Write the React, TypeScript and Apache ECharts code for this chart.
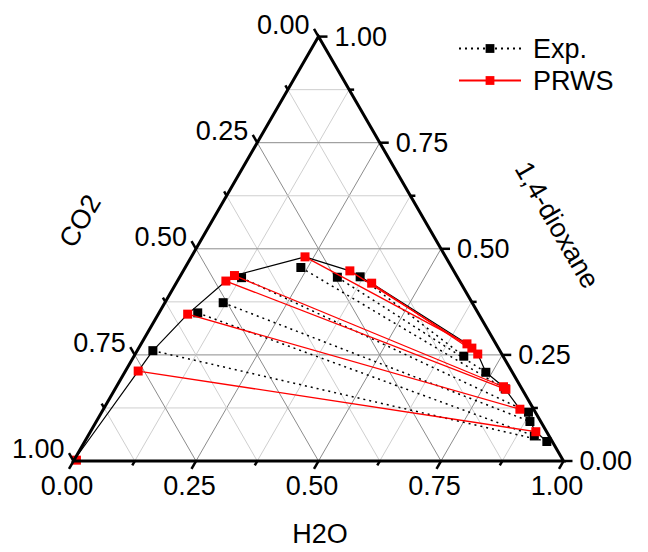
import React, { useEffect, useRef } from "react";
import * as echarts from "echarts";

const FONT = "'Liberation Sans', Arial, Helvetica, sans-serif";
const S = Math.sqrt(3) / 2;

// axis titles and ticks
const titleBottom = "H2O";
const titleLeft = "CO2";
const titleRight = "1,4-dioxane";
const tickValues = [0, 0.125, 0.25, 0.375, 0.5, 0.625, 0.75, 0.875, 1];
const gridValues = [0.125, 0.25, 0.375, 0.5, 0.625, 0.75, 0.875];

// Experimental tie lines (mole fractions; CO2 = 1 - H2O - dioxane)
const expH2O_I = [0.032, 0.079, 0.119, 0.127, 0.236, 0.322, 0.368];
const expDiox_I = [0.26, 0.349, 0.373, 0.432, 0.456, 0.433, 0.434];
const expH2O_II = [0.943, 0.911, 0.885, 0.871, 0.796, 0.737, 0.673];
const expDiox_II = [0.046, 0.059, 0.093, 0.115, 0.17, 0.209, 0.247];

// PRWS tie lines
const prwsH2O_I = [0.026, 0.06, 0.099, 0.11, 0.232, 0.34, 0.399];
const prwsDiox_I = [0.212, 0.346, 0.424, 0.437, 0.481, 0.448, 0.419];
const prwsH2O_II = [0.909, 0.85, 0.798, 0.79, 0.665, 0.68, 0.699];
const prwsDiox_II = [0.069, 0.122, 0.169, 0.175, 0.276, 0.266, 0.252];
const prwsPureH2O = [0.005];
const prwsPureDiox = [0.002];

// binodal curve
const binodalH2O = [0, 0.026, 0.032, 0.06, 0.099, 0.11, 0.232, 0.34, 0.368, 0.399, 0.665, 0.699, 0.737, 0.79, 0.85, 0.871, 0.885, 0.909, 0.943];
const binodalDiox = [0, 0.212, 0.26, 0.346, 0.424, 0.437, 0.481, 0.448, 0.434, 0.419, 0.276, 0.252, 0.209, 0.175, 0.122, 0.115, 0.093, 0.069, 0.046];

const tern = (w: number, d: number) => [w + d / 2, d * S];
const isMajor = (t: number) => Math.abs(t * 4 - Math.round(t * 4)) < 1e-6;

function textEl(x: number, y: number, text: string, align: string, valign: string) {
  return {
    type: "text",
    x,
    y,
    style: {
      text,
      fill: "#000",
      fontSize: 27,
      fontFamily: FONT,
      align,
      verticalAlign: valign,
      textAlign: align,
      textVerticalAlign: valign,
    },
  };
}

export default function App() {
  const ref = useRef<HTMLDivElement>(null);
  useEffect(() => {
    if (!ref.current) return;
    const chart = echarts.init(ref.current, undefined, { renderer: "svg" });
    const series: any[] = [];

    series.push({
      type: "custom",
      name: "grid",
      coordinateSystem: "cartesian2d",
      silent: true,
      clip: false,
      z: 1,
      data: gridValues.flatMap((t) => [[t, 0], [t, 1], [t, 2]]),
      renderItem: (_p: any, api: any) => {
        const t = api.value(0);
        const f = api.value(1);
        let a, b;
        if (f === 0) { a = tern(0, t); b = tern(1 - t, t); }
        else if (f === 1) { a = tern(t, 0); b = tern(t, 1 - t); }
        else { a = tern(1 - t, 0); b = tern(0, 1 - t); }
        const p1 = api.coord(a);
        const p2 = api.coord(b);
        return {
          type: "line",
          shape: { x1: p1[0], y1: p1[1], x2: p2[0], y2: p2[1] },
          style: { stroke: isMajor(t) ? "#8c8c8c" : "#cfcfcf", lineWidth: 1 },
        };
      },
    });

    series.push({
      type: "line",
      name: "binodal",
      data: binodalH2O.map((w, i) => tern(w, binodalDiox[i])),
      symbol: "none",
      silent: true,
      clip: false,
      z: 3,
      lineStyle: { color: "#000", width: 1.2 },
    });

    expH2O_I.forEach((w, i) => {
      series.push({
        type: "line",
        name: "Exp.",
        data: [tern(w, expDiox_I[i]), tern(expH2O_II[i], expDiox_II[i])],
        symbol: "rect",
        symbolSize: 9,
        showSymbol: true,
        clip: false,
        z: 4,
        itemStyle: { color: "#000" },
        lineStyle: { color: "#000", width: 1.5, type: [2, 4] },
      });
    });

    prwsH2O_I.forEach((w, i) => {
      series.push({
        type: "line",
        name: "PRWS",
        data: [tern(w, prwsDiox_I[i]), tern(prwsH2O_II[i], prwsDiox_II[i])],
        symbol: "rect",
        symbolSize: 9,
        showSymbol: true,
        clip: false,
        z: 5,
        itemStyle: { color: "#ff0000" },
        lineStyle: { color: "#ff0000", width: 1.3 },
      });
    });
    series.push({
      type: "line",
      name: "PRWS",
      data: prwsPureH2O.map((w, i) => tern(w, prwsPureDiox[i])),
      symbol: "rect",
      symbolSize: 9,
      showSymbol: true,
      clip: false,
      z: 5,
      itemStyle: { color: "#ff0000" },
      lineStyle: { color: "#ff0000", width: 1.3 },
    });

    // frame
    series.push({
      type: "custom",
      name: "frame",
      coordinateSystem: "cartesian2d",
      silent: true,
      clip: false,
      z: 6,
      data: [[0, 0]],
      renderItem: (_p: any, api: any) => {
        const pts = [tern(0, 0), tern(1, 0), tern(0, 1)].map((p) => api.coord(p));
        return {
          type: "polygon",
          shape: { points: pts },
          style: { fill: "none", stroke: "#000", lineWidth: 3, lineJoin: "miter" },
        };
      },
    });

    // ticks and labels
    series.push({
      type: "custom",
      name: "ticks",
      coordinateSystem: "cartesian2d",
      silent: true,
      clip: false,
      z: 7,
      data: tickValues.flatMap((t) => [[t, 0], [t, 1], [t, 2]]),
      renderItem: (_p: any, api: any) => {
        const t = api.value(0);
        const k = api.value(1);
        const major = isMajor(t);
        const len = major ? 9 : 5;
        let p: number[], dir: number[], lab: any = null;
        const txt = t.toFixed(2);
        if (k === 0) {
          p = api.coord(tern(t, 0));
          dir = [-0.5, S];
          if (major) lab = textEl(p[0] - 6.5, p[1] + 25, txt, "center", "middle");
        } else if (k === 1) {
          p = api.coord(tern(0, 1 - t));
          dir = [-0.5, -S];
          if (major) lab = textEl(p[0] - 9, p[1] - 12, txt, "right", "middle");
        } else {
          p = api.coord(tern(1 - t, t));
          dir = [1, 0];
          if (major) lab = textEl(p[0] + 16, p[1], txt, "left", "middle");
        }
        const children: any[] = [
          {
            type: "line",
            shape: { x1: p[0], y1: p[1], x2: p[0] + dir[0] * len, y2: p[1] + dir[1] * len },
            style: { stroke: "#000", lineWidth: 2.5 },
          },
        ];
        if (lab) children.push(lab);
        return { type: "group", children };
      },
    });

    chart.setOption({
      animation: false,
      grid: { left: 73.5, right: 84.5, top: 36.6, bottom: 91, containLabel: false },
      xAxis: { type: "value", min: 0, max: 1, show: false },
      yAxis: { type: "value", min: 0, max: S, show: false },
      legend: {
        data: ["Exp.", "PRWS"],
        orient: "vertical",
        left: 453,
        top: 30,
        itemWidth: 62,
        itemHeight: 11,
        itemGap: 5,
        selectedMode: false,
        textStyle: { fontSize: 27, fontFamily: FONT, color: "#000", padding: [0, 0, 0, 7] },
      },
      graphic: [
        { type: "text", x: 320, y: 534, style: { text: titleBottom, fill: "#000", font: `27px ${FONT}`, textAlign: "center", textVerticalAlign: "middle", align: "center", verticalAlign: "middle" } },
        { type: "text", x: 80, y: 221, rotation: Math.PI / 3, style: { text: titleLeft, fill: "#000", font: `27px ${FONT}`, textAlign: "center", textVerticalAlign: "middle", align: "center", verticalAlign: "middle" } },
        { type: "text", x: 557, y: 225, rotation: -Math.PI / 3, style: { text: titleRight, fill: "#000", font: `27px ${FONT}`, textAlign: "center", textVerticalAlign: "middle", align: "center", verticalAlign: "middle" } },
      ],
      series,
    });
    return () => chart.dispose();
  }, []);
  return <div ref={ref} style={{ position: "absolute", left: 0, top: 0, width: 648, height: 552 }} />;
}
